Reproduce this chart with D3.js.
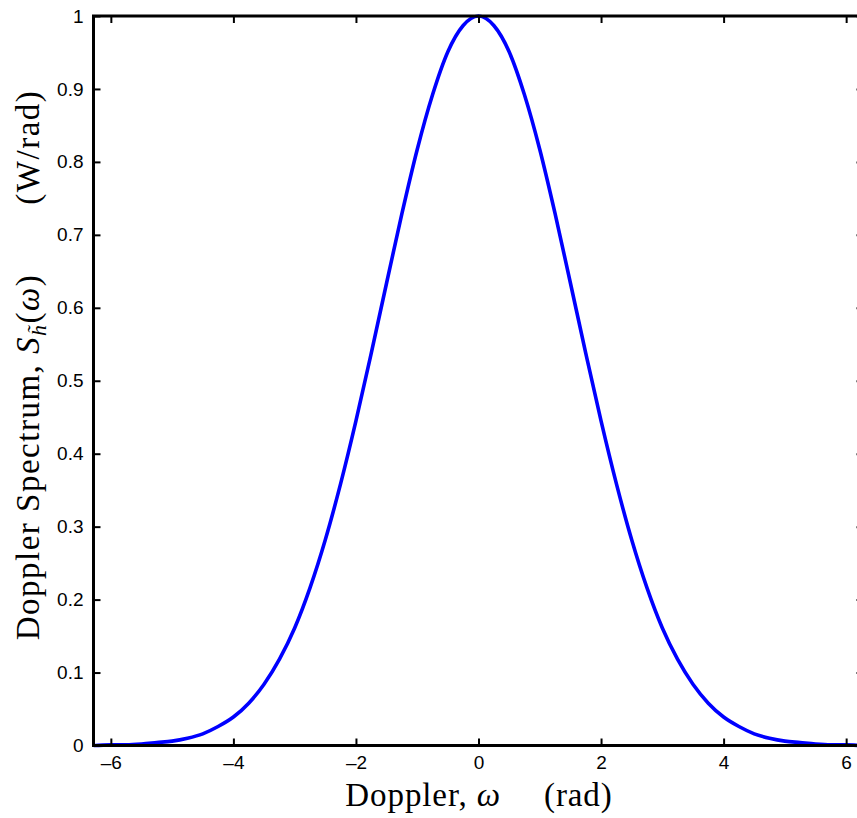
<!DOCTYPE html>
<html>
<head>
<meta charset="utf-8">
<script src="https://cdn.jsdelivr.net/npm/d3@7"></script>
<style>
  body { margin: 0; background: #fff; }
  svg { display: block; }
</style>
</head>
<body>
<div class="chart-container"></div>
<script>
// Doppler frequency (rad)
const omega = [-6.28, -6.25, -6.0, -5.75, -5.5, -5.25, -5.0, -4.75, -4.5, -4.25, -4.0,
  -3.75, -3.5, -3.25, -3.0, -2.75, -2.5, -2.25, -2.0, -1.75, -1.5, -1.25, -1.0,
  -0.75, -0.5, -0.25, 0, 0.25, 0.5, 0.75, 1.0, 1.25, 1.5, 1.75, 2.0, 2.25, 2.5,
  2.75, 3.0, 3.25, 3.5, 3.75, 4.0, 4.25, 4.5, 4.75, 5.0, 5.25, 5.5, 5.75, 6.0, 6.25, 6.28];

// Doppler spectrum (W/rad)
const spectrum = [0.000, 0.000, 0.001, 0.001, 0.002, 0.004, 0.006, 0.010, 0.016, 0.026, 0.039,
  0.058, 0.084, 0.118, 0.161, 0.216, 0.282, 0.359, 0.445, 0.538, 0.634, 0.729, 0.817,
  0.892, 0.951, 0.987, 1.000, 0.987, 0.951, 0.892, 0.817, 0.729, 0.634, 0.538, 0.445, 0.359, 0.282,
  0.216, 0.161, 0.118, 0.084, 0.058, 0.039, 0.026, 0.016, 0.010, 0.006, 0.004, 0.002, 0.001, 0.001, 0.000, 0.000];

const xTicks = [-6, -4, -2, 0, 2, 4, 6];
const yTicks = [0, 0.1, 0.2, 0.3, 0.4, 0.5, 0.6, 0.7, 0.8, 0.9, 1];

const data = omega.map((w, i) => ({ w: w, s: spectrum[i] }));

const width = 857, height = 818;
const plotLeft = 93.5, plotRight = 863.5, plotTop = 16, plotBottom = 745.5;

const svg = d3.select(".chart-container").append("svg")
    .attr("width", width)
    .attr("height", height);

const x = d3.scaleLinear()
    .domain([-2 * Math.PI, 2 * Math.PI])
    .range([plotLeft, plotRight]);

const y = d3.scaleLinear()
    .domain([0, 1])
    .range([plotBottom, plotTop]);

// the curve
const line = d3.line()
    .x(d => x(d.w))
    .y(d => y(d.s))
    .curve(d3.curveMonotoneX);

svg.append("path")
    .datum(data)
    .attr("d", line)
    .attr("fill", "none")
    .attr("stroke", "#0000ff")
    .attr("stroke-width", 3.6);

// axes, MATLAB style: ticks point inward on all four sides
const tickLen = 7;
const fmt = d => (d < 0 ? "\u2013" + Math.abs(d) : String(d));

const bottomAxis = svg.append("g")
    .attr("transform", "translate(0," + plotBottom + ")")
    .call(d3.axisBottom(x).tickValues(xTicks).tickSize(-tickLen).tickPadding(10).tickFormat(fmt));

const topAxis = svg.append("g")
    .attr("transform", "translate(0," + plotTop + ")")
    .call(d3.axisTop(x).tickValues(xTicks).tickSize(-tickLen).tickFormat(""));

const leftAxis = svg.append("g")
    .attr("transform", "translate(" + plotLeft + ",0)")
    .call(d3.axisLeft(y).tickValues(yTicks).tickSize(-tickLen).tickPadding(10).tickFormat(d3.format("")));

const rightAxis = svg.append("g")
    .attr("transform", "translate(" + plotRight + ",0)")
    .call(d3.axisRight(y).tickValues(yTicks).tickSize(-tickLen).tickFormat(""));

[bottomAxis, topAxis, leftAxis, rightAxis].forEach(g => {
    g.select(".domain").remove();
    g.selectAll(".tick line").attr("stroke", "#000").attr("stroke-width", 2);
    g.selectAll("text")
        .attr("font-family", "'Liberation Sans', Arial, sans-serif")
        .attr("font-size", 19)
        .attr("fill", "#000");
});

// frame
svg.append("rect")
    .attr("x", plotLeft)
    .attr("y", plotTop)
    .attr("width", plotRight - plotLeft)
    .attr("height", plotBottom - plotTop)
    .attr("fill", "none")
    .attr("stroke", "#000")
    .attr("stroke-width", 3);

// x label
const xl = svg.append("text")
    .attr("x", 479)
    .attr("y", 806)
    .attr("text-anchor", "middle")
    .attr("font-family", "'Liberation Serif', 'Times New Roman', serif")
    .attr("font-size", 33)
    .attr("letter-spacing", 0.9)
    .attr("fill", "#000");
xl.append("tspan").text("Doppler, ");
xl.append("tspan").attr("font-style", "italic").text("\u03c9");
xl.append("tspan").text("\u2003\u00a0(rad)");

// y label
const yl = svg.append("text")
    .attr("transform", "translate(39,365) rotate(-90)")
    .attr("text-anchor", "middle")
    .attr("font-family", "'Liberation Serif', 'Times New Roman', serif")
    .attr("font-size", 33)
    .attr("letter-spacing", 1.5)
    .attr("fill", "#000");
yl.append("tspan").text("Doppler Spectrum, ");
yl.append("tspan").attr("font-style", "italic").text("S");
yl.append("tspan").attr("font-style", "italic").attr("font-size", 22).attr("dy", 7).text("h\u0303");
yl.append("tspan").attr("dy", -7).text("(");
yl.append("tspan").attr("font-style", "italic").text("\u03c9");
yl.append("tspan").text(")\u2003\u2003(W/rad)");
</script>
</body>
</html>
